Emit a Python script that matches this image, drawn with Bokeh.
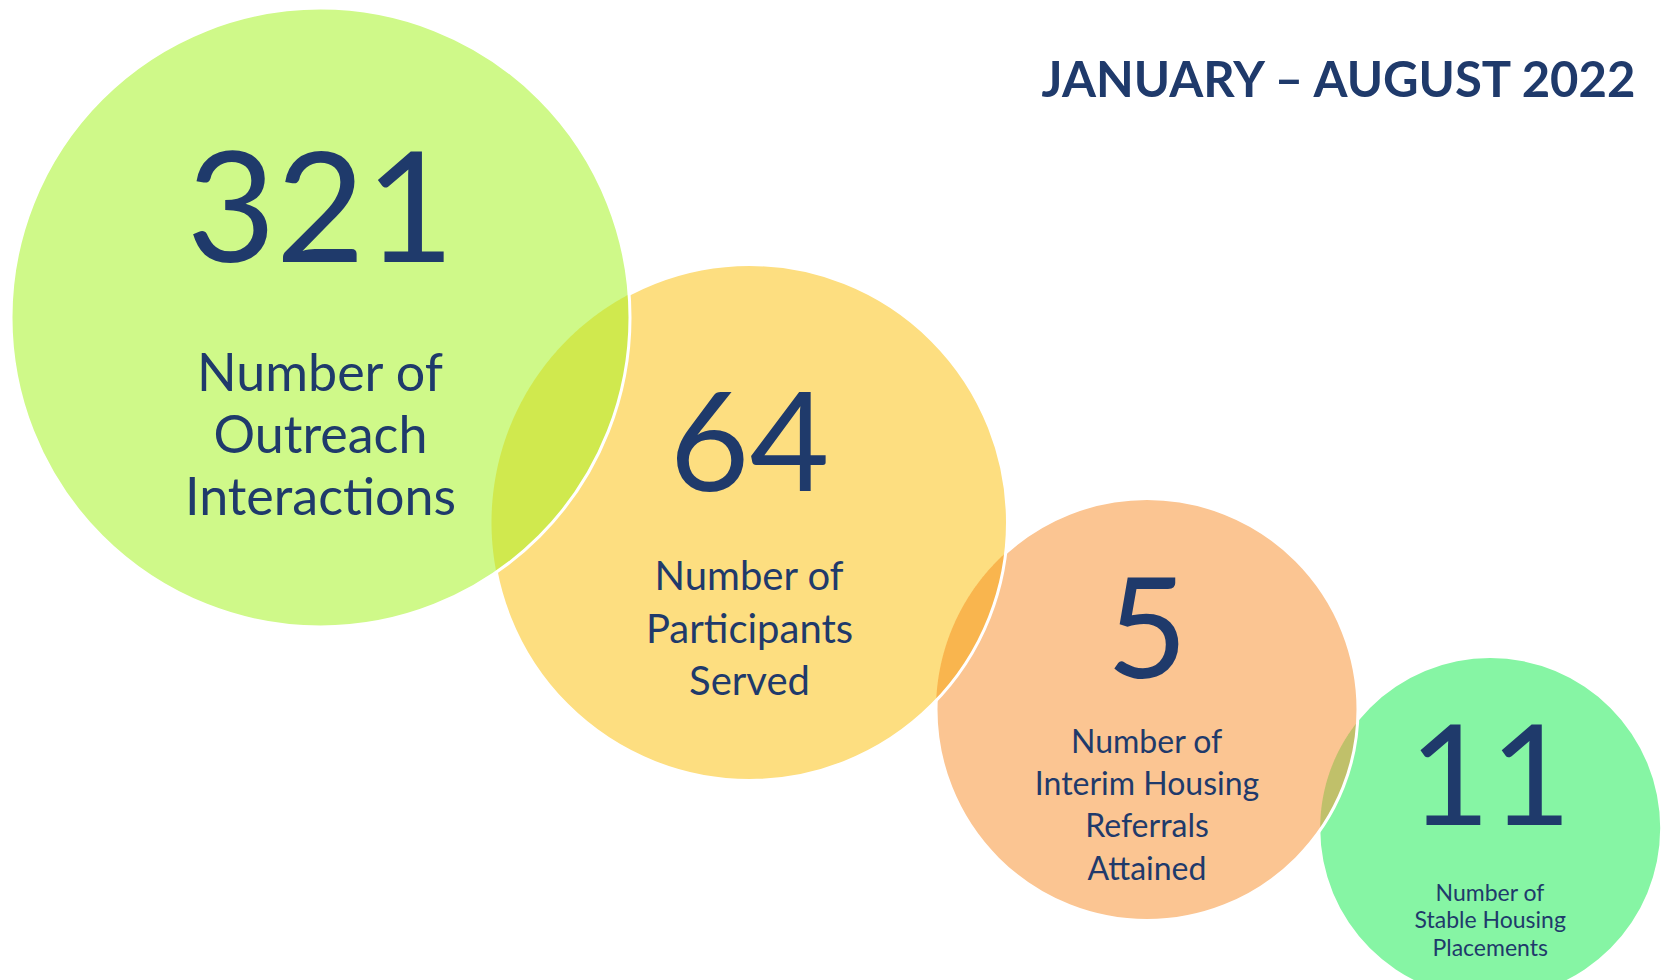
import numpy as np
from bokeh.plotting import figure
from bokeh.models import Range1d
from bokeh.core.properties import value
from bokeh.embed import file_html
from bokeh.resources import INLINE

# ---- data ----
TITLE = "JANUARY – AUGUST 2022"
VALUES = ["321", "64", "5", "11"]
LABEL_LINES = [
    ["Number of", "Outreach", "Interactions"],
    ["Number of", "Participants", "Served"],
    ["Number of", "Interim Housing", "Referrals", "Attained"],
    ["Number of", "Stable Housing", "Placements"],
]

# ---- styles ----
FILL = ["#CFF989", "#FDDE80", "#FBC592", "#86F5A4"]
OVERLAP = ["#D0E94E", "#F9B54E", "#C0C06A"]
TEXT_COLOR = "#1F3A6B"

# ---- layout (pixel units, y down) ----
W, H = 1663, 980
CX = [320, 749, 1146.5, 1489.7]
CY = [317, 522, 709, 827.6]
R = [309.5, 258, 211, 170]
VALUE_SIZE = [154, 138, 140, 140]
VALUE_BASE = [265, 493, 680, 827]
LABEL_SIZE = [52, 40, 32, 23]
LABEL_FIRST = [390, 590, 752, 900]
LABEL_STEP = [62, 52.5, 42.3, 27.5]
TITLE_SIZE = 49
TITLE_RIGHT, TITLE_BASE = 1640, 96.5
BASE_SHIFT = 0.38  # em offset of rendered alphabetic baseline


def ty(base, size):
    return base - BASE_SHIFT * size


p = figure(width=W, height=H, x_range=Range1d(0, W), y_range=Range1d(H, 0),
           output_backend="svg", toolbar_location=None,
           x_axis_type=None, y_axis_type=None, min_border=0)
p.outline_line_color = None
p.grid.visible = False
p.background_fill_color = "white"
p.border_fill_color = "white"


def lens(i, j, n=120):
    x1, y1, r1 = CX[i], CY[i], R[i]
    x2, y2, r2 = CX[j], CY[j], R[j]
    d = np.hypot(x2 - x1, y2 - y1)
    a = (d * d + r1 * r1 - r2 * r2) / (2 * d)
    th = np.arctan2(y2 - y1, x2 - x1)
    a1 = np.arccos(a / r1)
    a2 = np.arccos((d - a) / r2)
    t1 = np.linspace(th - a1, th + a1, n)
    t2 = np.linspace(th + np.pi - a2, th + np.pi + a2, n)
    xs = np.concatenate([x1 + r1 * np.cos(t1), x2 + r2 * np.cos(t2)])
    ys = np.concatenate([y1 + r1 * np.sin(t1), y2 + r2 * np.sin(t2)])
    return xs, ys


# draw from back (last circle) to front (first circle)
p.circle(x=[CX[3]], y=[CY[3]], radius=[R[3]], fill_color=FILL[3], line_color=None)
for k in (2, 1, 0):
    p.circle(x=[CX[k]], y=[CY[k]], radius=[R[k]], fill_color=FILL[k], line_color=None)
    lx, ly = lens(k, k + 1)
    p.patch(lx, ly, fill_color=OVERLAP[k], line_color=None)
    p.circle(x=[CX[k]], y=[CY[k]], radius=[R[k]], fill_color=None,
             line_color="white", line_width=3)

# values and labels
for k in range(4):
    p.text(x=[CX[k]], y=[ty(VALUE_BASE[k], VALUE_SIZE[k])], text=[VALUES[k]],
           text_font=value("Lato"), text_font_size=f"{VALUE_SIZE[k]}px",
           text_color=TEXT_COLOR, text_align="center", text_baseline="alphabetic")
    lines = LABEL_LINES[k]
    ys = [ty(LABEL_FIRST[k] + LABEL_STEP[k] * m, LABEL_SIZE[k]) for m in range(len(lines))]
    p.text(x=[CX[k]] * len(lines), y=ys, text=lines,
           text_font=value("Lato"), text_font_size=f"{LABEL_SIZE[k]}px",
           text_color=TEXT_COLOR, text_align="center", text_baseline="alphabetic")

p.text(x=[TITLE_RIGHT], y=[ty(TITLE_BASE, TITLE_SIZE)], text=[TITLE], text_font=value("Lato"),
       text_font_style="bold", text_font_size=f"{TITLE_SIZE}px", text_color=TEXT_COLOR,
       text_align="right", text_baseline="alphabetic")

open("out.html", "w").write(file_html(p, INLINE))
